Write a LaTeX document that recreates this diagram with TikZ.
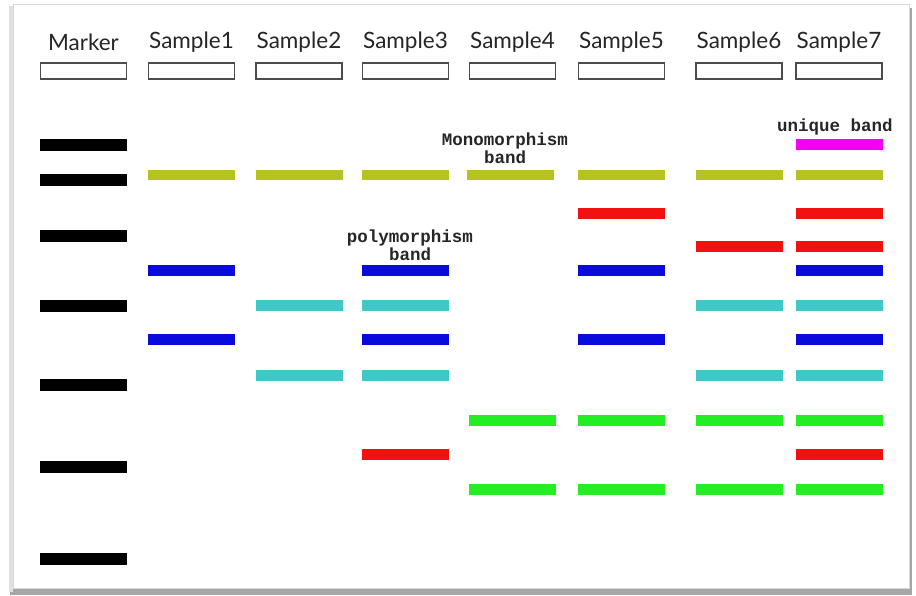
\documentclass[tikz,border=0pt]{standalone}
\usepackage{fontspec}
\setmainfont{Lato}
\newfontfamily\bandfont{Liberation Mono}
\usetikzlibrary{positioning}

\definecolor{olive}{HTML}{B5C31E}
\definecolor{uniq}{HTML}{F200F2}
\definecolor{redband}{HTML}{F21010}
\definecolor{blueband}{HTML}{0A0ADC}
\definecolor{cyanband}{HTML}{3EC8C8}
\definecolor{greenband}{HTML}{22EE22}
\definecolor{framegray}{HTML}{D8D8D8}

\tikzset{
  lanehead/.style={font=\fontsize{22.5}{22.5}\selectfont, text=black!85, inner sep=0pt},
  wellbox/.style={draw=black!70, line width=1.3pt, minimum width=86pt, minimum height=16pt, inner sep=0pt},
  band/.style={rectangle, inner sep=0pt, minimum width=87pt, minimum height=11pt},
  note/.style={font=\bandfont\bfseries\fontsize{17.5}{18}\selectfont, align=center, inner sep=0pt, text=black!85},
}

% lane centre x and width of a band
\newcommand{\bandat}[4]{\node[band, fill=#3] (#4) at (#1,#2) {};}

\begin{document}
\begin{tikzpicture}[x=1pt,y=-1pt]
\useasboundingbox (0,0) rectangle (916,595);

% frame with soft shadow on the left and bottom
\fill[black!35] (10,8) rectangle (912,595);
\fill[black!12] (9,6) rectangle (13,592);
\fill[white] (13,4) rectangle (909,588);
\draw[framegray, line width=0.8pt] (13,4) rectangle (909,588);

% lane headings and wells
\foreach \x/\t/\n in {83.5/Marker/m, 191.5/Sample1/s1, 299/Sample2/s2, 405.5/Sample3/s3,
                       512.5/Sample4/s4, 621.5/Sample5/s5, 739/Sample6/s6, 839/Sample7/s7}{
  \node[lanehead] (head-\n) at (\x,42) {\t};
  \node[wellbox] (well-\n) at (\x,71) {};
}

% marker ladder
\foreach \y [count=\i] in {145,180,236,306,385,467,559}{
  \node[band, fill=black, minimum height=12pt] (mk\i) at (83.5,\y) {};
}

% shared band across all samples
\foreach \x [count=\i] in {191.5,299,405.5,510.5,621.5,739,839}{
  \node[band, fill=olive, minimum height=10pt] (mono\i) at (\x,175) {};
}

% sample-specific bands
\bandat{839}{144}{uniq}{uq}
\bandat{621.5}{213}{redband}{r1a}
\bandat{839}{213}{redband}{r1b}
\bandat{739}{246}{redband}{r2a}
\bandat{839}{246}{redband}{r2b}

\foreach \x [count=\i] in {191.5,405.5,621.5,839}{
  \bandat{\x}{270}{blueband}{ba\i}
  \bandat{\x}{339}{blueband}{bb\i}
}
\foreach \x [count=\i] in {299,405.5,739,839}{
  \bandat{\x}{305}{cyanband}{ca\i}
  \bandat{\x}{375}{cyanband}{cb\i}
}
\foreach \x [count=\i] in {512.5,621.5,739,839}{
  \bandat{\x}{420}{greenband}{ga\i}
  \bandat{\x}{489}{greenband}{gb\i}
}
\bandat{405.5}{454}{redband}{r3a}
\bandat{839}{454}{redband}{r3b}

% annotations
\node[note] (monolabel) at (505,148) {Monomorphism\\band};
\node[note] (polylabel) at (410,245) {polymorphism\\band};
\node[note] (uniqlabel) at (835,127) {unique band};
\end{tikzpicture}
\end{document}
